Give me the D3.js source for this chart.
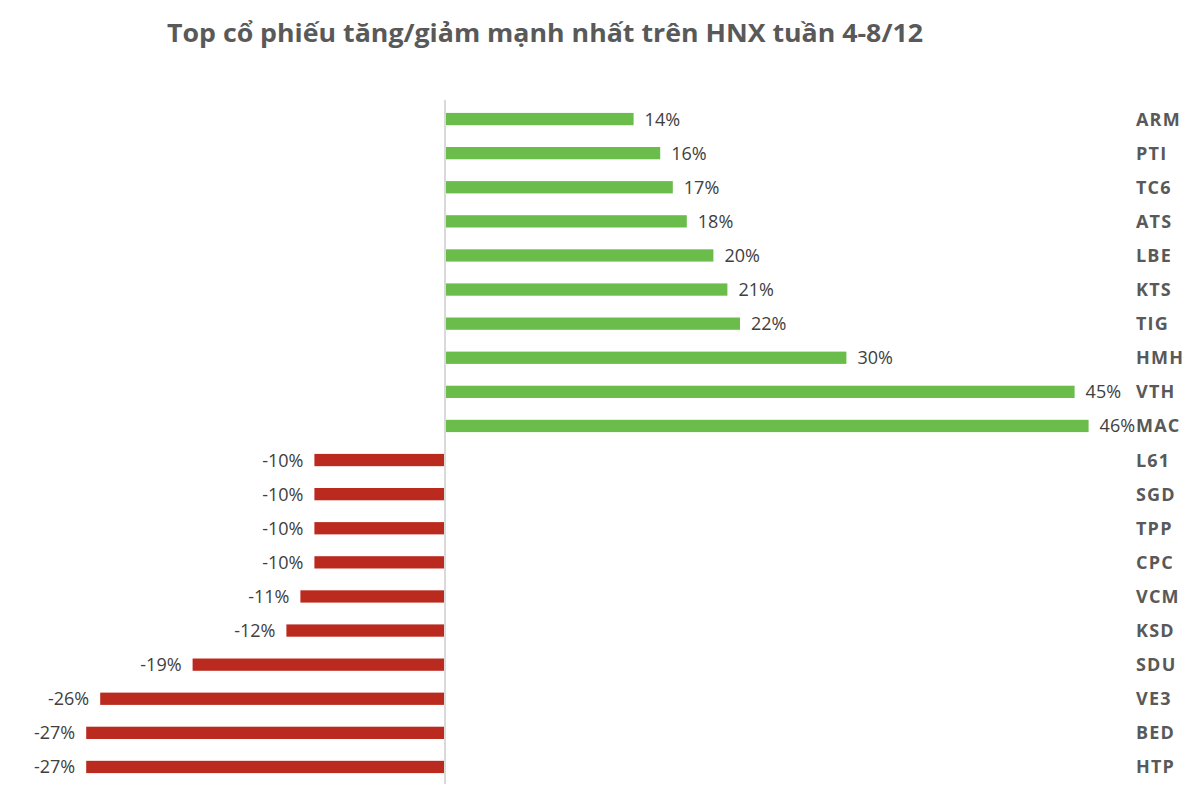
<!DOCTYPE html>
<html><head><meta charset="utf-8">
<script src="https://cdn.jsdelivr.net/npm/d3@7"></script>
<style>body{margin:0;background:#fff}</style>
</head><body>
<svg id="c" width="1192" height="792"></svg>
<script>
const title = "Top cổ phiếu tăng/giảm mạnh nhất trên HNX tuần 4-8/12";
const categories = ["ARM","PTI","TC6","ATS","LBE","KTS","TIG","HMH","VTH","MAC","L61","SGD","TPP","CPC","VCM","KSD","SDU","VE3","BED","HTP"];
const values = [13.4,15.3,16.2,17.2,19.1,20.1,21.0,28.6,44.9,45.9,-9.4,-9.4,-9.4,-9.4,-10.4,-11.4,-18.1,-24.7,-25.7,-25.7];
const labels = ["14%","16%","17%","18%","20%","21%","22%","30%","45%","46%","-10%","-10%","-10%","-10%","-11%","-12%","-19%","-26%","-27%","-27%"];

const svg = d3.select("#c");
const x = d3.scaleLinear().domain([0, 46]).range([446, 1090]);
const y = d3.scaleBand().domain(categories).range([102, 784]).paddingInner(0.64).paddingOuter(0.32);

svg.append("text").attr("x", 545).attr("y", 42).attr("text-anchor", "middle")
  .attr("font-family", "Open Sans, sans-serif").attr("font-weight", 700).attr("font-size", 25)
  .attr("fill", "#595959").attr("textLength", 756).attr("lengthAdjust","spacingAndGlyphs").text(title);

const data = categories.map((c, i) => ({c, v: values[i], l: labels[i]}));

svg.selectAll("rect.bar").data(data).join("rect").attr("class","bar")
  .attr("x", d => d.v >= 0 ? x(0) : x(d.v))
  .attr("width", d => Math.abs(x(d.v) - x(0)))
  .attr("y", d => y(d.c)).attr("height", y.bandwidth())
  .attr("fill", d => d.v >= 0 ? "#6abd4b" : "#bb2a1f");

svg.append("line").attr("x1", x(0) - 1).attr("x2", x(0) - 1).attr("y1", 100).attr("y2", 784)
  .attr("stroke", "#d9d9d9").attr("stroke-width", 2);

svg.selectAll("text.val").data(data).join("text").attr("class","val")
  .attr("x", d => d.v >= 0 ? x(d.v) + 11 : x(d.v) - 11)
  .attr("y", d => y(d.c) + y.bandwidth() / 2).attr("dy", "0.36em")
  .attr("text-anchor", d => d.v >= 0 ? "start" : "end")
  .attr("font-family", "Open Sans, sans-serif").attr("font-size", 18).attr("fill", "#404040")
  .text(d => d.l);

svg.selectAll("text.cat").data(data).join("text").attr("class","cat")
  .attr("x", 1136).attr("y", d => y(d.c) + y.bandwidth() / 2).attr("dy", "0.36em")
  .attr("font-family", "Open Sans, sans-serif").attr("font-weight", 700).attr("font-size", 18)
  .attr("letter-spacing", 1.2).attr("fill", "#595959")
  .text(d => d.c);
</script>
</body></html>
